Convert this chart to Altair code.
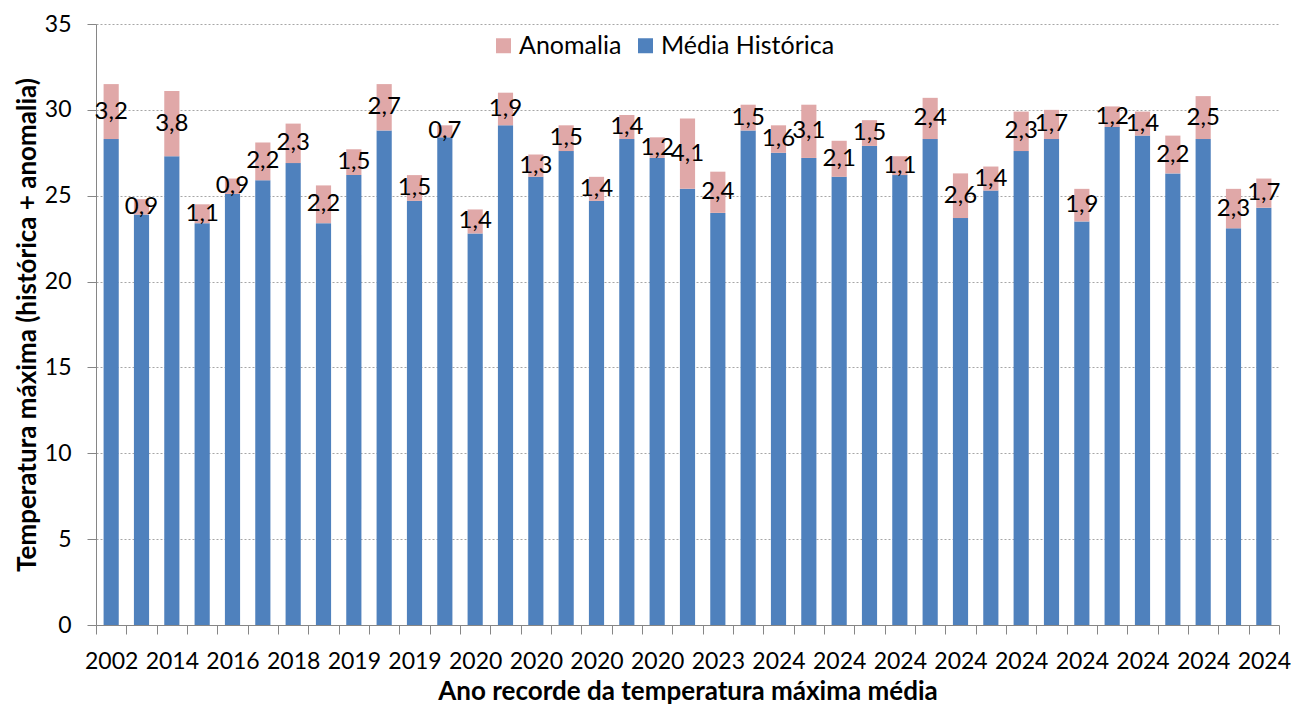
import json
import altair as alt
import pandas as pd

# Tick labels shown under every other bar (bars 1, 3, 5, ...)
tick_labels = ["2002", "2014", "2016", "2018", "2019", "2019", "2020", "2020", "2020", "2020",
               "2023", "2024", "2024", "2024", "2024", "2024", "2024", "2024", "2024", "2024"]

media_historica = [28.3, 23.9, 27.3, 23.4, 25.1, 25.9, 26.9, 23.4, 26.2, 28.8,
                   24.7, 28.4, 22.8, 29.1, 26.1, 27.6, 24.7, 28.3, 27.2, 25.4,
                   24.0, 28.8, 27.5, 27.2, 26.1, 27.9, 26.2, 28.3, 23.7, 25.3,
                   27.6, 28.3, 23.5, 29.0, 28.5, 26.3, 28.3, 23.1, 24.3]

anomalia = [3.2, 0.9, 3.8, 1.1, 0.9, 2.2, 2.3, 2.2, 1.5, 2.7,
            1.5, 0.7, 1.4, 1.9, 1.3, 1.5, 1.4, 1.4, 1.2, 4.1,
            2.4, 1.5, 1.6, 3.1, 2.1, 1.5, 1.1, 2.4, 2.6, 1.4,
            2.3, 1.7, 1.9, 1.2, 1.4, 2.2, 2.5, 2.3, 1.7]

series = ["Anomalia", "Média Histórica"]
colors = ["#E0A8A8", "#4F81BD"]

rows = []
labels = []
for i, (h, a) in enumerate(zip(media_historica, anomalia)):
    rows.append({"idx": i, "serie": "Média Histórica", "valor": h, "ord": 0})
    rows.append({"idx": i, "serie": "Anomalia", "valor": a, "ord": 1})
    labels.append({"idx": i, "mid": h + a / 2, "label": f"{a:.1f}".replace(".", ",")})

long_df = pd.DataFrame(rows)
lab_df = pd.DataFrame(labels)

FONT = "Lato"
label_expr = f"datum.value % 2 == 0 ? {json.dumps(tick_labels)}[datum.value / 2] : ''"

x_enc = alt.X(
    "idx:O",
    scale=alt.Scale(paddingInner=0, paddingOuter=0),
    axis=alt.Axis(
        title="Ano recorde da temperatura máxima média",
        labelExpr=label_expr,
        labelAngle=0,
        labelOverlap=False,
        labelFont=FONT,
        labelFontSize=23,
        labelColor="black",
        labelPadding=16,
        tickBand="extent",
        tickSize=9,
        tickColor="#868686",
        domainColor="#868686",
        titleFont=FONT,
        titleFontSize=26,
        titleFontWeight="bold",
        titleColor="black",
        titlePadding=5,
        grid=False,
    ),
)

bars = alt.Chart(long_df).mark_bar(width=alt.RelativeBandSize(band=0.5)).encode(
    x=x_enc,
    y=alt.Y(
        "valor:Q",
        stack="zero",
        scale=alt.Scale(domain=[0, 35], nice=False),
        axis=alt.Axis(
            title="Temperatura máxima (histórica + anomalia)",
            values=list(range(0, 36, 5)),
            labelFont=FONT,
            labelFontSize=23,
            labelColor="black",
            labelPadding=16,
            tickSize=9,
            tickColor="#868686",
            domainColor="#868686",
            gridColor="#a6a6a6",
            gridDash=[2, 2],
            gridWidth=1,
            titleFont=FONT,
            titleFontSize=26,
            titleFontWeight="bold",
            titleColor="black",
            titlePadding=4,
        ),
    ),
    color=alt.Color(
        "serie:N",
        scale=alt.Scale(domain=series, range=colors),
        legend=alt.Legend(
            title=None,
            orient="none",
            legendX=395,
            legendY=9,
            direction="horizontal",
            symbolType="square",
            symbolSize=225,
            symbolStrokeWidth=0,
            labelFont=FONT,
            labelFontSize=25,
            labelColor="black",
            labelLimit=400,
            labelOffset=3,
            columnPadding=11,
        ),
    ),
    order=alt.Order("ord:Q", sort="ascending"),
)

text = alt.Chart(lab_df).mark_text(
    font=FONT, fontSize=24, color="black", baseline="middle", align="center"
).encode(
    x=alt.X("idx:O"),
    y=alt.Y("mid:Q"),
    text="label:N",
)

chart = (
    alt.layer(bars, text)
    .properties(
        width=1183,
        height=601,
        autosize=alt.AutoSizeParams(type="none"),
        padding={"left": 88, "top": 16, "right": 12, "bottom": 80},
    )
    .configure_view(strokeWidth=0)
)

chart.save("out.html", embed_options={"renderer": "svg", "actions": False})
